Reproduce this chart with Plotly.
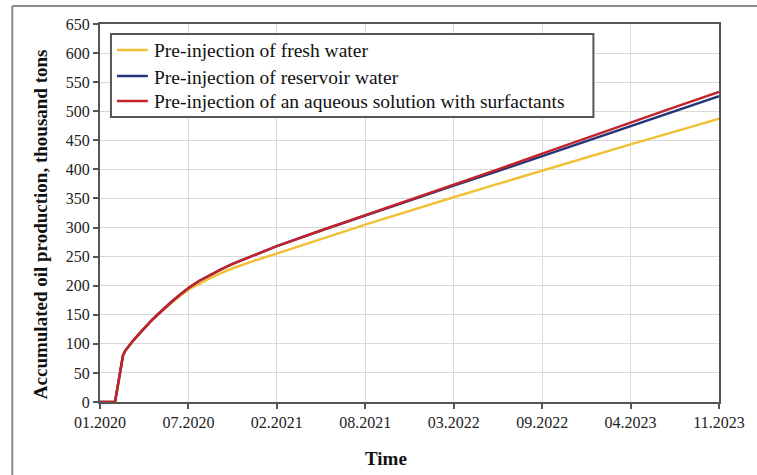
import pandas as pd
import plotly.graph_objects as go

# Days elapsed since 01.01.2020 for each sample
days = [0, 34, 43, 52, 57, 63, 71, 85, 100, 115, 130, 145, 160, 180, 200, 225,
        250, 275, 300, 350, 400, 500, 600, 700, 800, 900, 1000, 1100, 1200,
        1300, 1400]

# Accumulated oil production, thousand tons
fresh_water = [0, 0, 40, 80, 88, 95, 102, 114, 127, 139, 150, 160, 170, 182,
               193, 204, 213.5, 222, 230, 243, 255, 280, 305, 329, 352, 375, 398,
               420, 443, 465, 487]
reservoir_water = [0, 0, 40, 80, 88, 95, 102, 114, 127, 139, 150, 161, 171, 184,
                   196, 208.5, 219, 228.5, 237.5, 253, 268, 295, 321, 346, 372,
                   397, 423, 449, 474, 500, 526]
surfactant_solution = [0, 0, 40, 80, 88, 95, 102, 114, 127, 139, 150, 161, 171,
                       184, 196, 208.5, 219, 228.5, 237.5, 253, 268, 295, 321, 347,
                       374, 400, 427, 454, 480, 507, 533]

series_names = [
    "Pre-injection of fresh water",
    "Pre-injection of reservoir water",
    "Pre-injection of an aqueous solution with surfactants",
]
series_colors = ["#F2C037", "#25357A", "#C3242C"]

# Date axis ticks every 200 days
tick_step_days = 200
axis_span_days = 1400

start = pd.Timestamp("2020-01-01")
dates = [start + pd.Timedelta(days=d) for d in days]
tick_dates = [start + pd.Timedelta(days=d) for d in range(0, axis_span_days + 1, tick_step_days)]

serif = "Liberation Serif, Times New Roman, serif"

fig = go.Figure()
for name, values, color in zip(series_names,
                               [fresh_water, reservoir_water, surfactant_solution],
                               series_colors):
    fig.add_trace(go.Scatter(x=dates, y=values, mode="lines", name=name,
                             line=dict(color=color, width=2.5)))

# plot-area geometry in pixels
W, H = 757, 475
L, R, T, B = 100, 721, 24, 402
pw, ph = R - L, B - T


def px_x(x):
    return (x - L) / pw


def px_y(y):
    return 1 - (y - T) / ph


# legend box drawn in paper space: frame, sample lines and labels
legend_box = dict(x0=111, x1=595, y0=34, y1=117)
legend_rows = [50, 76, 101]

shapes = [
    # outer chart frame (top and left edges)
    dict(type="line", xref="paper", yref="paper",
         x0=px_x(12), y0=px_y(6), x1=px_x(W + 10), y1=px_y(6),
         line=dict(color="#8A8A8A", width=2)),
    dict(type="line", xref="paper", yref="paper",
         x0=px_x(12), y0=px_y(6), x1=px_x(12), y1=px_y(H + 10),
         line=dict(color="#8A8A8A", width=2)),
    dict(type="rect", xref="paper", yref="paper",
         x0=px_x(legend_box["x0"]), x1=px_x(legend_box["x1"]),
         y0=px_y(legend_box["y0"]), y1=px_y(legend_box["y1"]),
         fillcolor="white", line=dict(color="#555555", width=2), layer="above"),
]
annotations = []
for row_y, name, color in zip(legend_rows, series_names, series_colors):
    shapes.append(dict(type="line", xref="paper", yref="paper",
                       x0=px_x(117), x1=px_x(148), y0=px_y(row_y), y1=px_y(row_y),
                       line=dict(color=color, width=2.5), layer="above"))
    annotations.append(dict(text=name, xref="paper", yref="paper",
                            x=px_x(152), y=px_y(row_y + 1),
                            xanchor="left", yanchor="middle", showarrow=False,
                            font=dict(family=serif, size=19.5, color="#111111")))

annotations += [
    dict(text="<b>Accumulated oil production, thousand tons</b>",
         xref="paper", yref="paper", x=px_x(40), y=px_y(224),
         xanchor="center", yanchor="middle", textangle=-90, showarrow=False,
         font=dict(family=serif, size=19, color="#111111")),
    dict(text="<b>Time</b>",
         xref="paper", yref="paper", x=px_x(387), y=px_y(458),
         xanchor="center", yanchor="middle", showarrow=False,
         font=dict(family=serif, size=19, color="#111111")),
]

fig.update_layout(
    width=W, height=H,
    margin=dict(l=L, r=W - R, t=T, b=H - B),
    paper_bgcolor="white",
    plot_bgcolor="white",
    font=dict(family=serif, color="#222222"),
    showlegend=False,
    xaxis=dict(
        type="date",
        range=[tick_dates[0], tick_dates[-1]],
        tickvals=tick_dates,
        tickformat="%m.%Y",
        ticks="outside", ticklen=5, tickwidth=1.5, tickcolor="#555555",
        tickfont=dict(family=serif, size=16, color="#222222"),
        showgrid=True, gridcolor="#DADADA", gridwidth=1,
        showline=True, linecolor="#555555", linewidth=2, mirror=True,
        zeroline=False,
    ),
    yaxis=dict(
        range=[0, 650], dtick=50, tick0=0,
        ticks="outside", ticklen=5, tickwidth=1.5, tickcolor="#555555",
        tickfont=dict(family=serif, size=16, color="#222222"),
        showgrid=True, gridcolor="#DADADA", gridwidth=1,
        showline=True, linecolor="#555555", linewidth=2, mirror=True,
        zeroline=False,
    ),
    annotations=annotations,
    shapes=shapes,
)

fig.write_html("out.html")
